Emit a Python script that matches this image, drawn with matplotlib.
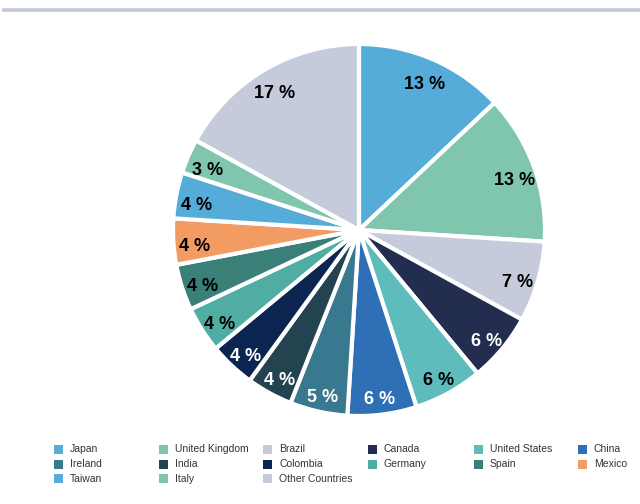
import matplotlib
matplotlib.use("Agg")
import matplotlib.pyplot as plt
from matplotlib.patches import Rectangle
from matplotlib.lines import Line2D

countries = ["Japan", "United Kingdom", "Brazil", "Canada", "United States", "China",
             "Ireland", "India", "Colombia", "Germany", "Spain", "Mexico",
             "Taiwan", "Italy", "Other Countries"]
values = [13, 13, 7, 6, 6, 6, 5, 4, 4, 4, 4, 4, 4, 3, 17]
colors = ["#56acd9", "#80c6ae", "#c5cbdb", "#232d4f", "#5fbcbc", "#2f6fb6",
          "#387990", "#22434f", "#0c2450", "#4fada3", "#3a7f78", "#f29b62",
          "#56acd9", "#80c6ae", "#c5cbdb"]
label_colors = ["black", "black", "black", "white", "black", "white",
                "white", "white", "white", "black", "black", "black",
                "black", "black", "black"]

plt.rcParams['font.family'] = ['Liberation Sans', 'DejaVu Sans']

W, H = 640, 504
fig = plt.figure(figsize=(6.4, 5.04), dpi=100)

# top gray rule
fig.add_artist(Line2D([4 / W, 1.0], [1 - 9.5 / H, 1 - 9.5 / H], color="#c0c8d8",
                      lw=2.6, transform=fig.transFigure))

cx, cy, r = 359, 230, 186
ax = fig.add_axes([(cx - r) / W, (H - cy - r) / H, 2 * r / W, 2 * r / H])
wedges, texts = ax.pie(values, colors=colors, startangle=90, counterclock=False,
                       radius=1, wedgeprops=dict(edgecolor="white", linewidth=3),
                       labels=[f"{v} %" for v in values], labeldistance=0.887,
                       textprops=dict(fontsize=13, fontweight="bold"))
for t, c in zip(texts, label_colors):
    t.set_color(c)
    t.set_ha("center")
    t.set_va("center")
    x, y = t.get_position()
    t.set_position((x, y - 6 / r))
ax.set_xlim(-1, 1)
ax.set_ylim(-1, 1)
ax.set_aspect("equal")
ax.axis("off")

# legend
col_x = [54, 159, 263, 368, 474, 578]
row_y = [449, 464, 478.5]
sq = 9
for i, (name, c) in enumerate(zip(countries, colors)):
    col, row = i % 6, i // 6
    x, y = col_x[col], row_y[row]
    fig.add_artist(Rectangle((x / W, (H - y - sq / 2) / H), sq / W, sq / H,
                             facecolor=c, edgecolor="none", transform=fig.transFigure))
    fig.text((x + 16) / W, (H - y) / H, name, fontsize=7.5, color="#333333",
             ha="left", va="center")

fig.savefig("out.png", dpi=100)
